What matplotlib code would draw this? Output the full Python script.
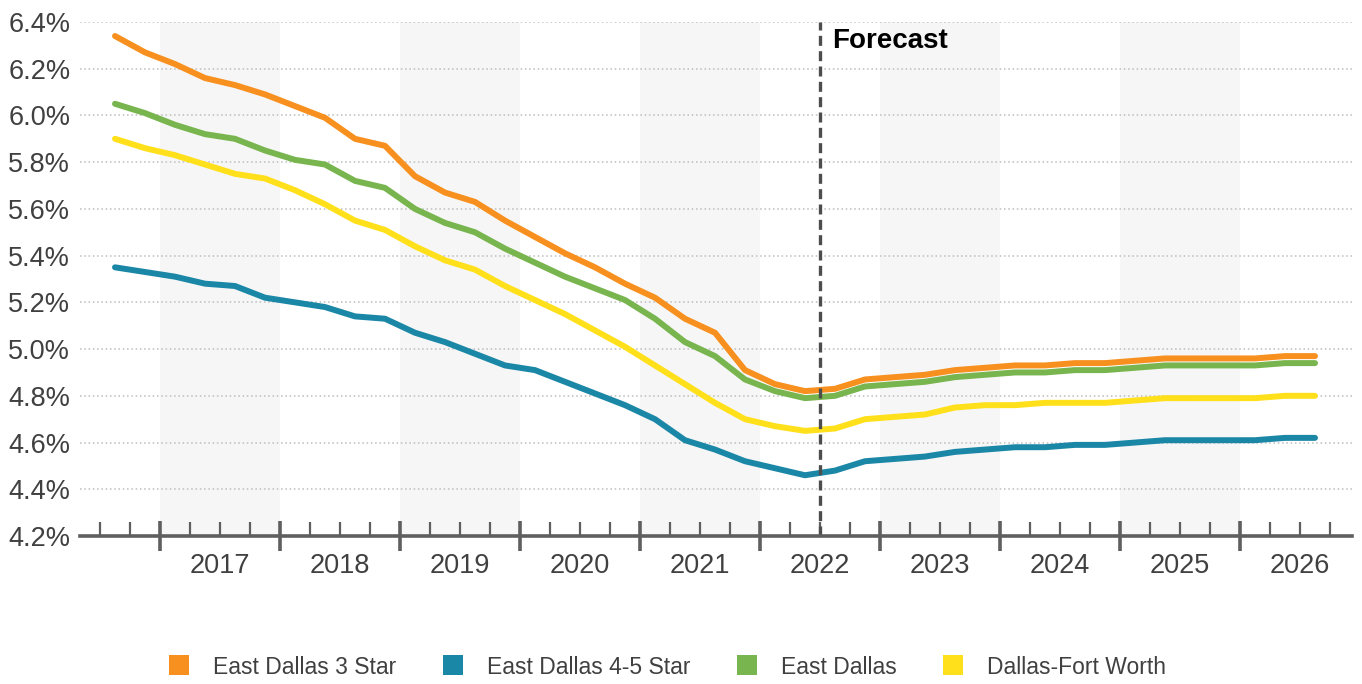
import matplotlib
matplotlib.use("Agg")
import matplotlib.pyplot as plt
from matplotlib.lines import Line2D
from matplotlib.ticker import FixedLocator, NullFormatter

plt.rcParams['font.family'] = ['Liberation Sans', 'DejaVu Sans']

# Quarterly cap rates, 2016 Q3 through 2026 Q3 (forecast from 2022 Q3)
start_year = 2016
start_quarter = 3
years = [2017, 2018, 2019, 2020, 2021, 2022, 2023, 2024, 2025, 2026]
y_ticks = [4.2, 4.4, 4.6, 4.8, 5.0, 5.2, 5.4, 5.6, 5.8, 6.0, 6.2, 6.4]
forecast_start = 2022.5

series_names = ["East Dallas 3 Star", "East Dallas 4-5 Star", "East Dallas", "Dallas-Fort Worth"]

east_dallas_3_star = [
    6.34, 6.27, 6.22, 6.16, 6.13, 6.09, 6.04, 5.99, 5.90, 5.87,
    5.74, 5.67, 5.63, 5.55, 5.48, 5.41, 5.35, 5.28, 5.22, 5.13,
    5.07, 4.91, 4.85, 4.82, 4.83, 4.87, 4.88, 4.89, 4.91, 4.92,
    4.93, 4.93, 4.94, 4.94, 4.95, 4.96, 4.96, 4.96, 4.96, 4.97,
    4.97,
]
east_dallas_45_star = [
    5.35, 5.33, 5.31, 5.28, 5.27, 5.22, 5.20, 5.18, 5.14, 5.13,
    5.07, 5.03, 4.98, 4.93, 4.91, 4.86, 4.81, 4.76, 4.70, 4.61,
    4.57, 4.52, 4.49, 4.46, 4.48, 4.52, 4.53, 4.54, 4.56, 4.57,
    4.58, 4.58, 4.59, 4.59, 4.60, 4.61, 4.61, 4.61, 4.61, 4.62,
    4.62,
]
east_dallas = [
    6.05, 6.01, 5.96, 5.92, 5.90, 5.85, 5.81, 5.79, 5.72, 5.69,
    5.60, 5.54, 5.50, 5.43, 5.37, 5.31, 5.26, 5.21, 5.13, 5.03,
    4.97, 4.87, 4.82, 4.79, 4.80, 4.84, 4.85, 4.86, 4.88, 4.89,
    4.90, 4.90, 4.91, 4.91, 4.92, 4.93, 4.93, 4.93, 4.93, 4.94,
    4.94,
]
dallas_fort_worth = [
    5.90, 5.86, 5.83, 5.79, 5.75, 5.73, 5.68, 5.62, 5.55, 5.51,
    5.44, 5.38, 5.34, 5.27, 5.21, 5.15, 5.08, 5.01, 4.93, 4.85,
    4.77, 4.70, 4.67, 4.65, 4.66, 4.70, 4.71, 4.72, 4.75, 4.76,
    4.76, 4.77, 4.77, 4.77, 4.78, 4.79, 4.79, 4.79, 4.79, 4.80,
    4.80,
]

colors = ["#F7901E", "#1B87A6", "#78B54E", "#FFE01B"]
all_series = [east_dallas_3_star, east_dallas_45_star, east_dallas, dallas_fort_worth]

# Each quarter is plotted at its mid-point on a fractional-year axis
n = len(east_dallas_3_star)
x = [start_year + (start_quarter - 1 + i) / 4 + 0.125 for i in range(n)]

fig = plt.figure(figsize=(13.62, 6.84), dpi=100)
ax = fig.add_axes([80 / 1362, 1 - 536 / 684, 1272 / 1362, 514 / 684])

x_left = 2017 - 80 / 120
x_right = 2017 + 1192 / 120
ax.set_xlim(x_left, x_right)
ax.set_ylim(y_ticks[0], y_ticks[-1])

# Alternating year bands
for yr in years[::2]:
    ax.axvspan(yr, yr + 1, color="#F6F6F6", zorder=0, lw=0)

# Dotted horizontal gridlines
for yv in y_ticks[1:]:
    ax.axhline(yv, color="#BDBDBD", lw=1.1, ls=(0, (1, 1.8)), zorder=1)

for vals, col in zip(all_series, colors):
    ax.plot(x, vals, color=col, lw=4.3, solid_capstyle="round",
            solid_joinstyle="round", zorder=3)

# Forecast divider
ax.axvline(forecast_start, color="#4D4D4D", lw=2.4, ls=(0, (3, 1.6)), zorder=4)
ax.text(forecast_start + 0.1, 6.4 - 0.11, "Forecast", fontsize=20,
        fontweight="bold", color="#000000", ha="left", va="baseline", zorder=5)

# Spines
for side in ["top", "right", "left"]:
    ax.spines[side].set_visible(False)
ax.spines["bottom"].set_color("#5E5E5E")
ax.spines["bottom"].set_linewidth(2.6)
ax.spines["bottom"].set_zorder(5)

# Year boundaries as major ticks, quarter boundaries as minor ticks
quarter_edges = [2016.5 + 0.25 * k for k in range(42)]
ax.xaxis.set_major_locator(FixedLocator(years))
ax.xaxis.set_minor_locator(FixedLocator([q for q in quarter_edges if abs(q - round(q)) > 1e-6]))
ax.xaxis.set_major_formatter(NullFormatter())
ax.tick_params(axis="x", which="major", direction="inout", length=22, width=2.6,
               color="#5E5E5E")
ax.tick_params(axis="x", which="minor", direction="in", length=10, width=1.6,
               color="#5E5E5E")

for yr in years:
    ax.text(yr + 0.5, -0.058, str(yr), transform=ax.get_xaxis_transform(),
            ha="center", va="center", fontsize=19.5, color="#404040")

ax.set_yticks(y_ticks)
ax.set_yticklabels([f"{v:.1f}%" for v in y_ticks])
ax.tick_params(axis="y", length=0, pad=7, labelsize=19.5, labelcolor="#404040")

handles = [Line2D([], [], marker="s", linestyle="none", markersize=14.4,
                  markerfacecolor=c, markeredgewidth=0) for c in colors]
fig.legend(handles, series_names, loc="center", ncol=4,
           bbox_to_anchor=(667 / 1362, 17 / 684), frameon=False,
           fontsize=16.5, labelcolor="#404040", handlelength=1.0,
           handletextpad=1.0, columnspacing=1.95, borderpad=0)

fig.savefig("out.png", dpi=100)
